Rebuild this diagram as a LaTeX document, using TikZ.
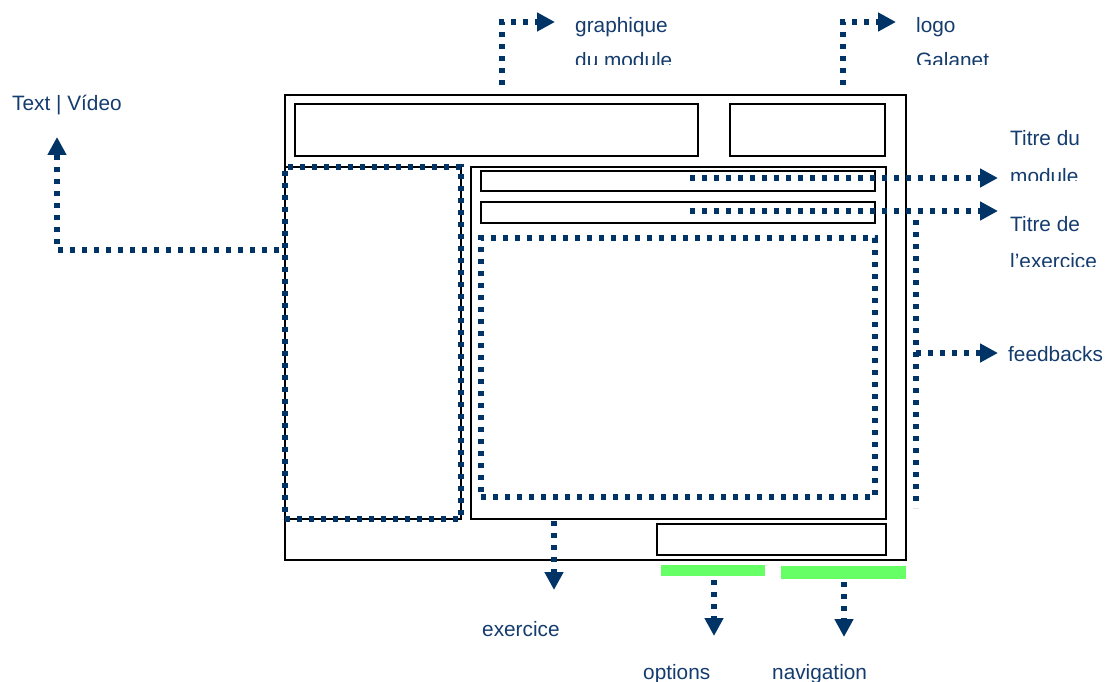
\documentclass[tikz,border=0pt]{standalone}
\usepackage{fontspec}
\setmainfont{Liberation Sans}
\usetikzlibrary{arrows.meta}
\definecolor{navy}{RGB}{0,51,102}
\definecolor{txtblue}{RGB}{20,60,110}
\definecolor{lgreen}{RGB}{102,255,102}
\begin{document}
\begin{tikzpicture}[x=1pt,y=-1pt,
  box/.style={draw=black,line width=1.8pt,inner sep=0pt,outer sep=0pt,anchor=north west},
  thinbox/.style={draw=black,line width=1.2pt,inner sep=0pt,outer sep=0pt,anchor=north west},
  dotbox/.style={draw=navy,line width=5.2pt,dash pattern=on 5.2pt off 6.8pt,inner sep=0pt,outer sep=0pt,anchor=north west},
  greenbar/.style={fill=lgreen,draw=none,inner sep=0pt,outer sep=0pt,anchor=north west},
  conn/.style={draw=navy,line width=5.2pt,dash pattern=on 5.2pt off 6.8pt,-{Triangle[length=18pt,width=18pt]}},
  dotline/.style={draw=navy,line width=5.2pt,dash pattern=on 5.2pt off 6.8pt},
  lbl/.style={text=txtblue,inner sep=0pt,anchor=base west,font=\fontsize{20.8}{24}\selectfont}
]
\useasboundingbox (0,0) rectangle (1106,682);
\fill[white] (0,0) rectangle (1106,682);

% boxes
\node[box,minimum width=621pt,minimum height=465pt] (frame) at (285,95) {};
\node[box,minimum width=403pt,minimum height=52pt] (graph) at (295,104) {};
\node[box,minimum width=155pt,minimum height=52pt] (logo) at (730,104) {};
\node[box,minimum width=415pt,minimum height=352pt] (content) at (471,167) {};
\node[box,minimum width=394pt,minimum height=20pt] (titre1) at (481,171) {};
\node[box,minimum width=394pt,minimum height=21pt] (titre2) at (481,202) {};
\node[box,minimum width=229pt,minimum height=31pt] (bottom) at (657,524) {};
\node[thinbox,minimum width=176pt,minimum height=352pt] (textvidbg) at (285,167) {};

% dotted regions
\node[dotbox,minimum width=176pt,minimum height=352pt] (textvid) at (285,167) {};
\node[dotbox,minimum width=394pt,minimum height=259pt] (exer) at (481,238) {};

% green bars
\node[greenbar,minimum width=104pt,minimum height=11pt] (gopt) at (661,565) {};
\node[greenbar,minimum width=125pt,minimum height=13pt] (gnav) at (781,566) {};

% labels
\node[lbl] (lgraph) at (575,33) {graphique};
\begin{scope}
\clip (560,40) rectangle (720,65);
\node[lbl] (lgraph2) at (575,67.5) {du module};
\end{scope}
\node[lbl] (llogo) at (916,33) {logo};
\begin{scope}
\clip (900,40) rectangle (1050,65);
\node[lbl] (llogo2) at (916,67.5) {Galanet};
\end{scope}
\node[lbl] (ltv) at (12,111) {Text | Vídeo};
\node[lbl] (lt1) at (1010,146) {Titre du};
\begin{scope}
\clip (1000,155) rectangle (1106,181);
\node[lbl] (lt1b) at (1010,183.5) {module};
\end{scope}
\node[lbl] (lt2) at (1010,231) {Titre de};
\begin{scope}
\clip (1000,240) rectangle (1106,266);
\node[lbl] (lt2b) at (1010,268.5) {l’exercice};
\end{scope}
\node[lbl] (lfb) at (1008,361) {feedbacks};
\node[lbl] (lex) at (482,636) {exercice};
\node[lbl] (lopt) at (643,679) {options};
\node[lbl] (lnav) at (772,679) {navigation};

% connector coordinates
\coordinate (g0) at (502,85);
\coordinate (g1) at (502,22);
\coordinate (g2) at (555,22);
\coordinate (o0) at (843,85);
\coordinate (o1) at (843,22);
\coordinate (o2) at (896,22);
\coordinate (tv0) at (279,250);
\coordinate (tv1) at (57,250);
\coordinate (tv2) at (57,137);
\coordinate (t1a) at (690,178);
\coordinate (t1b) at (998,178);
\coordinate (t2a) at (690,211);
\coordinate (t2b) at (998,211);
\coordinate (fv0) at (916,220);
\coordinate (fv1) at (916,508);
\coordinate (fa) at (916,353);
\coordinate (fb) at (998,353);
\coordinate (ex0) at (554,521);
\coordinate (ex1) at (554,590);
\coordinate (op0) at (714,580);
\coordinate (op1) at (714,636);
\coordinate (nv0) at (844,582);
\coordinate (nv1) at (844,637);

% connectors
\draw[conn] (g0) -- (g1) -- (g2);
\draw[conn] (o0) -- (o1) -- (o2);
\draw[conn] (tv0) -- (tv1) -- (tv2);
\draw[conn] (t1a) -- (t1b);
\draw[conn] (t2a) -- (t2b);
\draw[dotline] (fv0) -- (fv1);
\draw[conn] (fa) -- (fb);
\draw[conn] (ex0) -- (ex1);
\draw[conn] (op0) -- (op1);
\draw[conn] (nv0) -- (nv1);
\end{tikzpicture}
\end{document}
